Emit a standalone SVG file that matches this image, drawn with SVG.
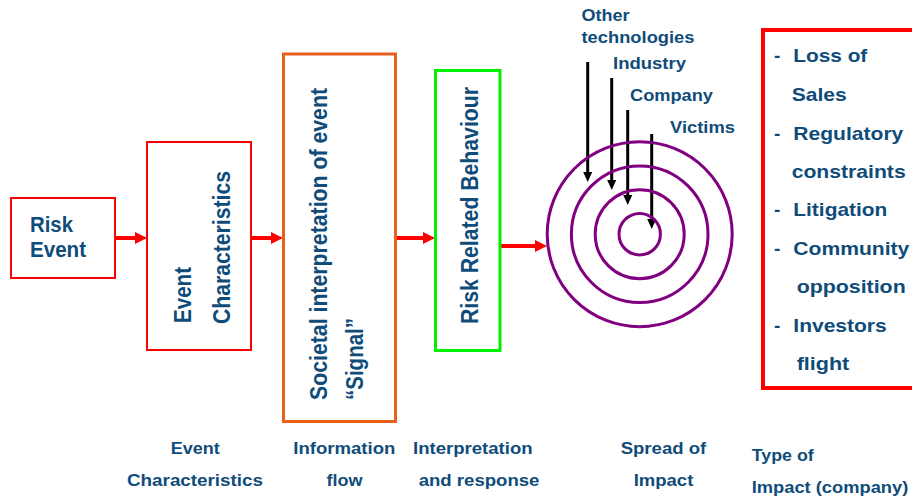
<svg xmlns="http://www.w3.org/2000/svg" width="912" height="502" viewBox="0 0 912 502">
<style>
text{font-family:"Liberation Sans",Arial,sans-serif;font-weight:bold;fill:#0F4C7A;}
.s17{font-size:17px;}
.s19{font-size:19px;}
.s21{font-size:21px;}
.s22{font-size:22px;}
.mid{text-anchor:middle;}
.red{fill:none;stroke:#FF0000;stroke-width:4;}
.blk{fill:none;stroke:#000000;stroke-width:3;}
.ring{fill:none;stroke:#800080;stroke-width:3;}
</style>
<defs>
<marker id="ar" markerUnits="userSpaceOnUse" markerWidth="12" markerHeight="12" refX="0" refY="6" orient="auto"><path d="M0,0 L12,6 L0,12 z" fill="#FF0000"/></marker>
<marker id="ab" markerUnits="userSpaceOnUse" markerWidth="10" markerHeight="9" refX="0" refY="4.5" orient="auto"><path d="M0,0 L10,4.5 L0,9 z" fill="#000000"/></marker>
</defs>
<rect width="912" height="502" fill="#FFFFFF"/>

<g id="connectors">
<line class="red" x1="115" y1="238" x2="135" y2="238" marker-end="url(#ar)"/>
<line class="red" x1="251" y1="238" x2="271" y2="238" marker-end="url(#ar)"/>
<line class="red" x1="396" y1="238" x2="423" y2="238" marker-end="url(#ar)"/>
<line class="red" x1="500" y1="246" x2="535" y2="246" marker-end="url(#ar)"/>
<line class="blk" x1="587.7" y1="62" x2="587.7" y2="172" marker-end="url(#ab)"/>
<line class="blk" x1="611.7" y1="78" x2="611.7" y2="180" marker-end="url(#ab)"/>
<line class="blk" x1="627.7" y1="110" x2="627.7" y2="195" marker-end="url(#ab)"/>
<line class="blk" x1="651.7" y1="134" x2="651.7" y2="219" marker-end="url(#ab)"/>
</g>

<g id="risk-event">
<rect x="11" y="198" width="104" height="80" fill="none" stroke="#FF0000" stroke-width="2"/>
<text class="s22" x="30" y="232" textLength="43" lengthAdjust="spacingAndGlyphs">Risk</text>
<text class="s22" x="30" y="257" textLength="56" lengthAdjust="spacingAndGlyphs">Event</text>
</g>

<g id="event-characteristics">
<rect x="147" y="142" width="104" height="208" fill="none" stroke="#FF0000" stroke-width="2"/>
<text class="s21" transform="translate(190.5,323) scale(1.15,1) rotate(-90)" textLength="56" lengthAdjust="spacingAndGlyphs">Event</text>
<text class="s21" transform="translate(229.5,324) scale(1.15,1) rotate(-90)" textLength="153" lengthAdjust="spacingAndGlyphs">Characteristics</text>
</g>

<g id="societal-interpretation">
<rect x="283.5" y="54" width="112" height="367.5" fill="none" stroke="#E8601C" stroke-width="3"/>
<text class="s21" transform="translate(326.5,400) scale(1.15,1) rotate(-90)" textLength="312" lengthAdjust="spacingAndGlyphs">Societal interpretation of event</text>
<text class="s21" transform="translate(363,400) scale(1.15,1) rotate(-90)" textLength="82" lengthAdjust="spacingAndGlyphs">“Signal”</text>
</g>

<g id="risk-related-behaviour">
<rect x="435.5" y="70.5" width="64.5" height="280" fill="none" stroke="#00F000" stroke-width="3"/>
<text class="s21" transform="translate(478,324) scale(1.15,1) rotate(-90)" textLength="237" lengthAdjust="spacingAndGlyphs">Risk Related Behaviour</text>
</g>

<g id="spread-rings">
<circle class="ring" cx="639.7" cy="234.2" r="92.5"/>
<circle class="ring" cx="639.7" cy="234.2" r="68.3"/>
<circle class="ring" cx="639.7" cy="234.2" r="44.5"/>
<circle class="ring" cx="639.7" cy="234.2" r="20.7"/>
</g>

<g id="ring-labels">
<text class="s17" x="581.5" y="20.5" textLength="48" lengthAdjust="spacingAndGlyphs">Other</text>
<text class="s17" x="581.5" y="42.5" textLength="113" lengthAdjust="spacingAndGlyphs">technologies</text>
<text class="s17" x="613" y="69" textLength="73" lengthAdjust="spacingAndGlyphs">Industry</text>
<text class="s17" x="630" y="100.5" textLength="83" lengthAdjust="spacingAndGlyphs">Company</text>
<text class="s17" x="670" y="132.5" textLength="65" lengthAdjust="spacingAndGlyphs">Victims</text>
</g>

<g id="impact-list">
<rect x="763" y="30" width="160" height="358" fill="none" stroke="#FF0000" stroke-width="4"/>
<text class="s19" x="774" y="62">-</text>
<text class="s19" x="793.3" y="62" textLength="74" lengthAdjust="spacingAndGlyphs">Loss of</text>
<text class="s19" x="791.7" y="101" textLength="55" lengthAdjust="spacingAndGlyphs">Sales</text>
<text class="s19" x="774" y="139.5">-</text>
<text class="s19" x="793.3" y="139.5" textLength="110" lengthAdjust="spacingAndGlyphs">Regulatory</text>
<text class="s19" x="791.7" y="177.5" textLength="114" lengthAdjust="spacingAndGlyphs">constraints</text>
<text class="s19" x="774" y="216">-</text>
<text class="s19" x="793.3" y="216" textLength="94" lengthAdjust="spacingAndGlyphs">Litigation</text>
<text class="s19" x="774" y="255">-</text>
<text class="s19" x="793.3" y="255" textLength="116" lengthAdjust="spacingAndGlyphs">Community</text>
<text class="s19" x="796.7" y="293" textLength="109" lengthAdjust="spacingAndGlyphs">opposition</text>
<text class="s19" x="774" y="332">-</text>
<text class="s19" x="793.3" y="332" textLength="93.4" lengthAdjust="spacingAndGlyphs">Investors</text>
<text class="s19" x="796.7" y="370" textLength="52.6" lengthAdjust="spacingAndGlyphs">flight</text>
</g>

<g id="bottom-labels">
<text class="s17" x="170.7" y="453.5" textLength="49" lengthAdjust="spacingAndGlyphs">Event</text>
<text class="s17" x="127" y="486" textLength="136" lengthAdjust="spacingAndGlyphs">Characteristics</text>
<text class="s17" x="293.3" y="453.5" textLength="102" lengthAdjust="spacingAndGlyphs">Information</text>
<text class="s17" x="326.4" y="486" textLength="36" lengthAdjust="spacingAndGlyphs">flow</text>
<text class="s17" x="413" y="453.5" textLength="119.6" lengthAdjust="spacingAndGlyphs">Interpretation</text>
<text class="s17" x="418.7" y="486" textLength="120.7" lengthAdjust="spacingAndGlyphs">and response</text>
<text class="s17" x="620.7" y="453.5" textLength="85.5" lengthAdjust="spacingAndGlyphs">Spread of</text>
<text class="s17" x="633.7" y="486" textLength="59.6" lengthAdjust="spacingAndGlyphs">Impact</text>
<text class="s17" x="751.7" y="461" textLength="62" lengthAdjust="spacingAndGlyphs">Type of</text>
<text class="s17" x="751.7" y="493" textLength="156.6" lengthAdjust="spacingAndGlyphs">Impact (company)</text>
</g>
</svg>
